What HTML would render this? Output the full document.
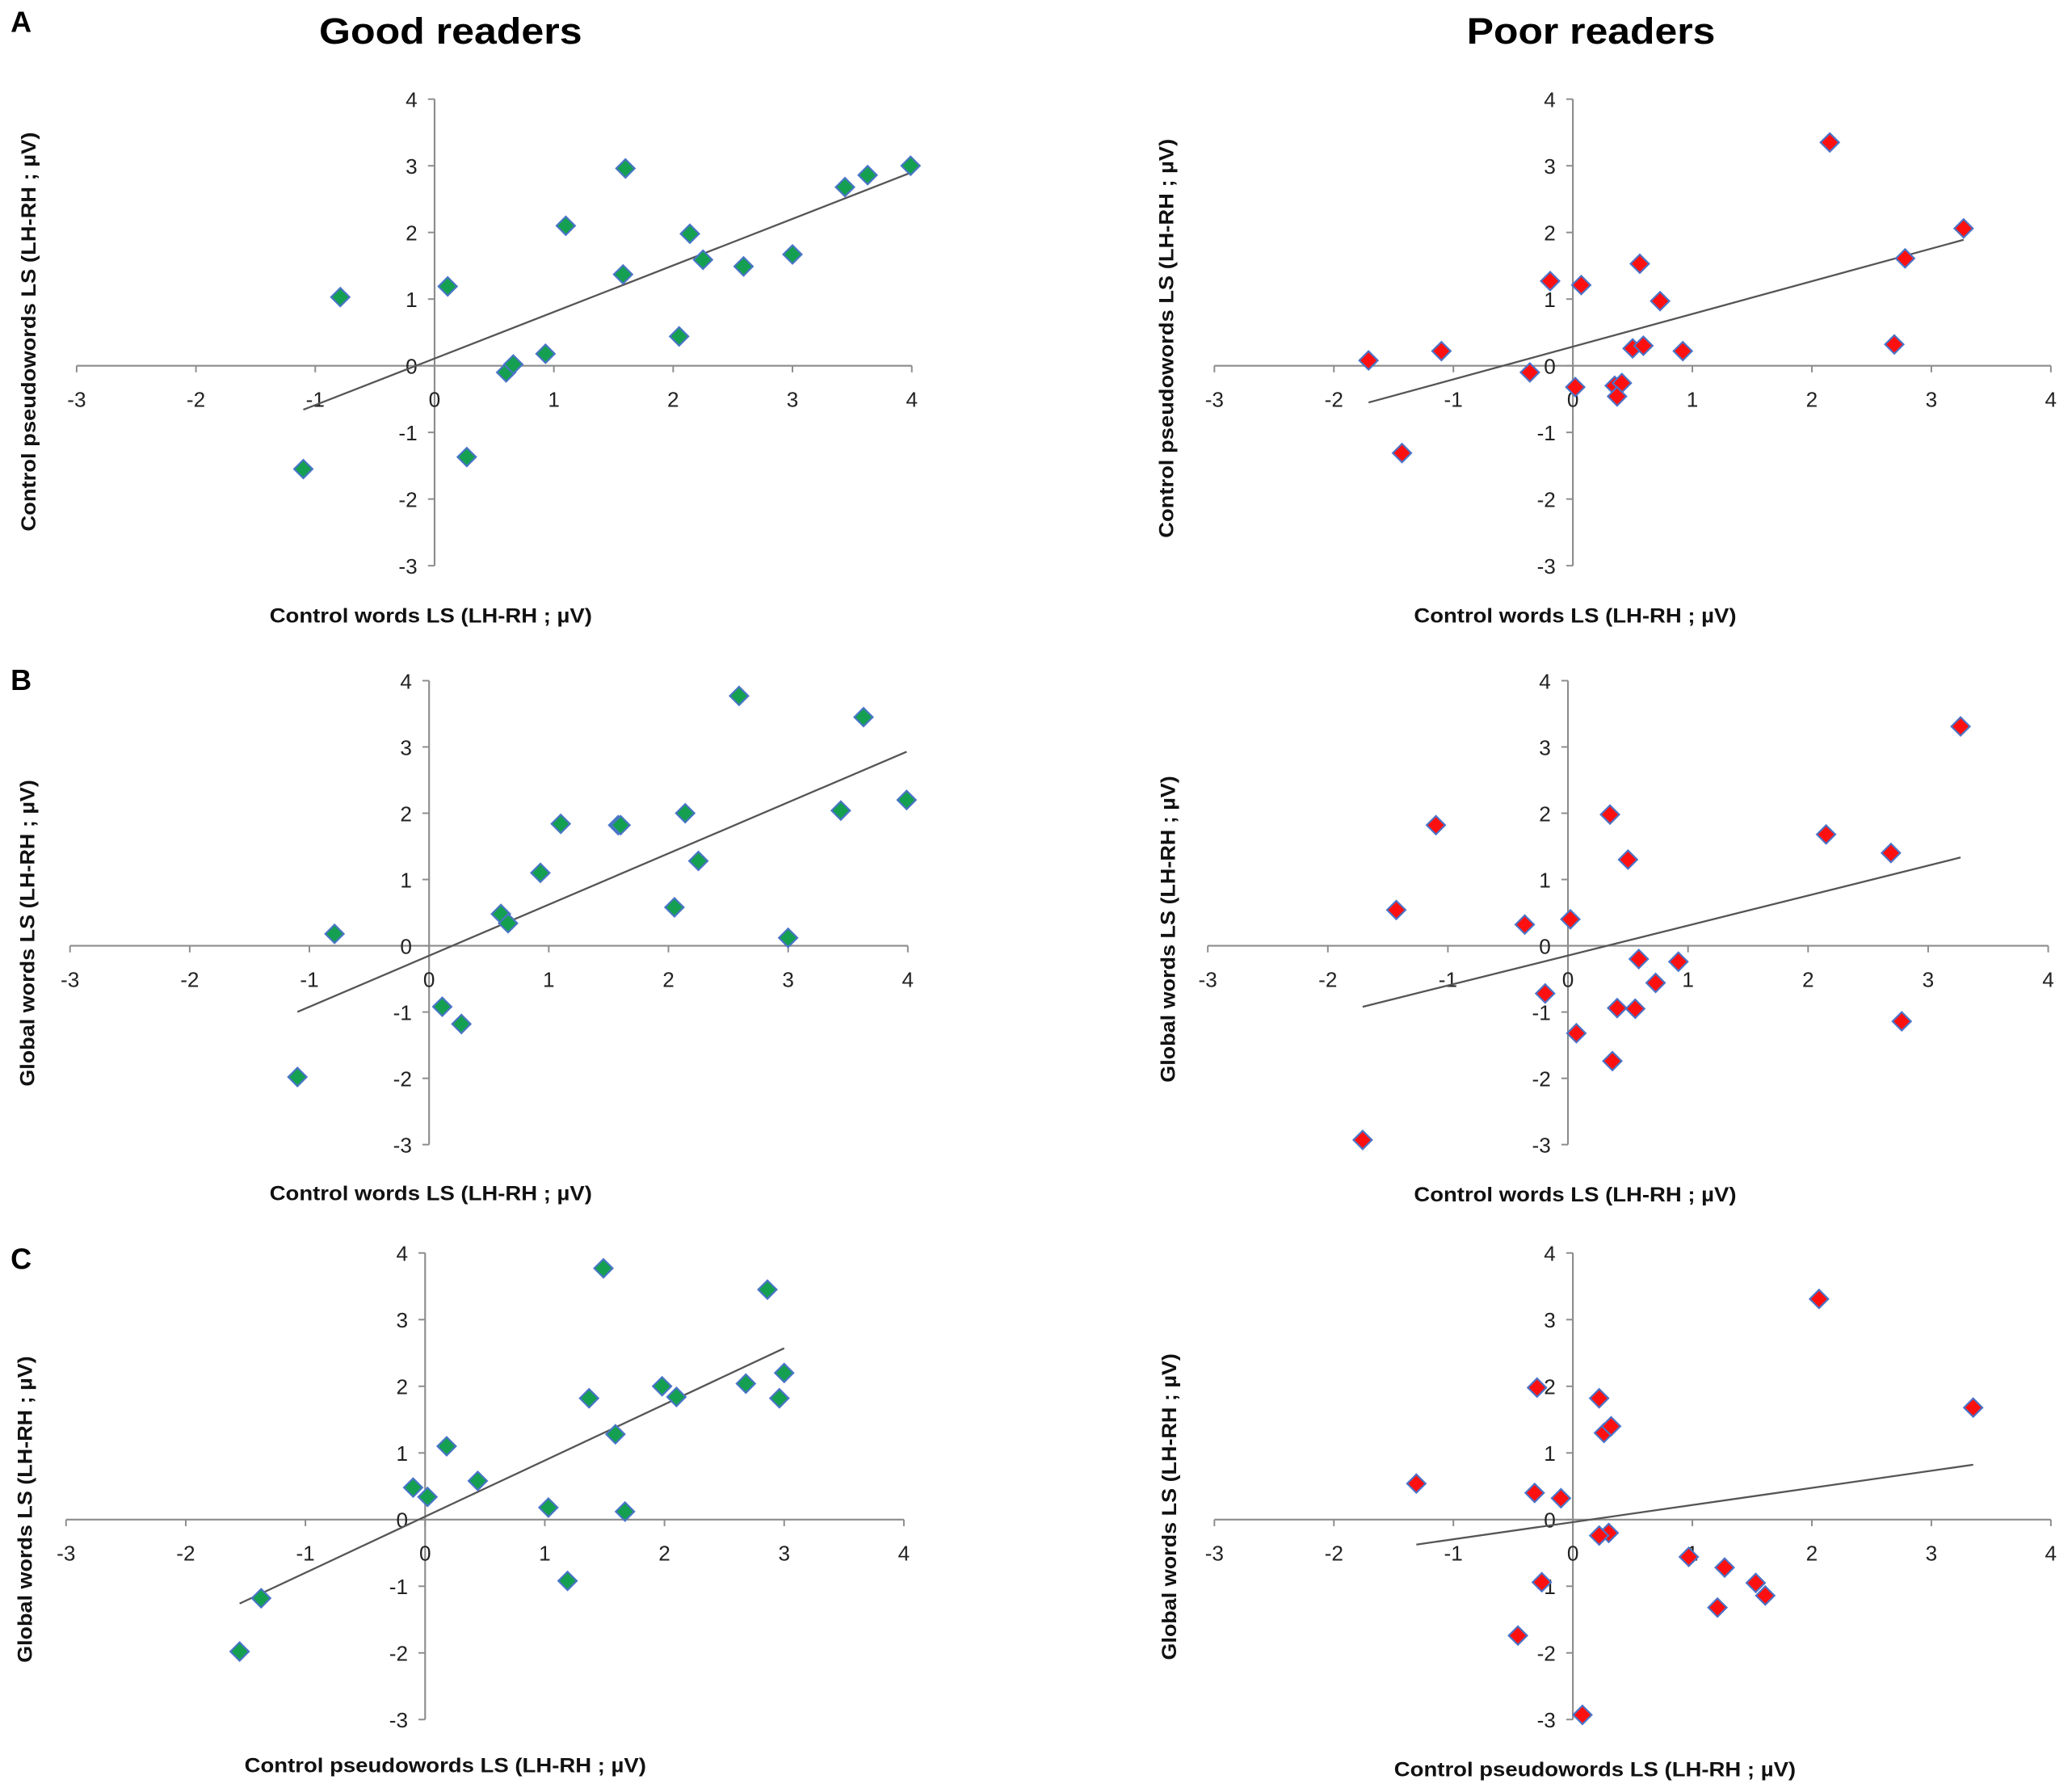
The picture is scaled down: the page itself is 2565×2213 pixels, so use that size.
<!DOCTYPE html>
<html><head><meta charset="utf-8"><style>
html,body{margin:0;padding:0;background:#fff;}
svg{display:block;}
text{font-family:"Liberation Sans",sans-serif;}
</style></head><body>
<svg id="fig" width="2565" height="2213" viewBox="0 0 1568 1352.8" preserveAspectRatio="none" xmlns="http://www.w3.org/2000/svg">
<text x="8" y="24" font-size="22" font-weight="bold">A</text>
<text x="8" y="522" font-size="22" font-weight="bold">B</text>
<text x="8" y="960" font-size="22" font-weight="bold">C</text>
<text x="341" y="33" font-size="28" font-weight="bold" text-anchor="middle" textLength="199" lengthAdjust="spacingAndGlyphs">Good readers</text>
<text x="1204" y="33" font-size="28" font-weight="bold" text-anchor="middle" textLength="188" lengthAdjust="spacingAndGlyphs">Poor readers</text>
</svg>
<script>
// Good readers (per subject)
const goodControlWords = [-0.79,0.11,-1.1,0.27,0.6,0.66,0.93,1.1,1.58,1.6,2.05,2.14,2.25,2.59,3.0,3.44,3.63,3.99];
const goodControlPseudo = [1.03,1.19,-1.55,-1.37,-0.1,0.02,0.18,2.1,1.37,2.96,0.44,1.98,1.59,1.49,1.67,2.68,2.86,3.0];
const goodGlobalWords = [0.18,-0.92,-1.98,-1.18,0.48,0.34,1.1,1.84,1.82,1.82,0.58,2.0,1.28,3.77,0.12,2.04,3.45,2.2];
// Poor readers (per subject)
const poorControlWords = [-1.71,-1.43,-1.1,-0.36,-0.19,0.02,0.07,0.35,0.41,0.37,0.5,0.56,0.59,0.73,0.92,2.15,2.69,2.78,3.27];
const poorControlPseudo = [0.08,-1.31,0.22,-0.1,1.27,-0.32,1.21,-0.3,-0.26,-0.46,0.26,1.53,0.3,0.97,0.22,3.35,0.32,1.61,2.06];
const poorGlobalWords = [-2.93,0.54,1.82,0.32,-0.72,0.4,-1.32,1.98,-0.94,-1.74,1.3,-0.95,-0.2,-0.56,-0.24,1.68,1.4,-1.14,3.31];
const tickValues = [-3,-2,-1,0,1,2,3,4];

const NS = "http://www.w3.org/2000/svg";
const svg = document.getElementById('fig');
function mk(tag, attrs, parent){const e=document.createElementNS(NS,tag);for(const k in attrs)e.setAttribute(k,attrs[k]);(parent||svg).appendChild(e);return e;}

const panels = [
 {id:'a-good', xs:goodControlWords, ys:goodControlPseudo, xm:58, xM:690, y4:75, ym3:428, fill:'#14a050', xt:'Control words LS (LH-RH ; µV)', yt:'Control pseudowords LS (LH-RH ; µV)', xtx:326, xty:471, ytx:27, yty:251, xw:244, yw:302},
 {id:'a-poor', xs:poorControlWords, ys:poorControlPseudo, xm:919, xM:1552, y4:75, ym3:428, fill:'#ff1010', xt:'Control words LS (LH-RH ; µV)', yt:'Control pseudowords LS (LH-RH ; µV)', xtx:1192, xty:471, ytx:888, yty:256, xw:244, yw:302},
 {id:'b-good', xs:goodControlWords, ys:goodGlobalWords, xm:53, xM:687, y4:515, ym3:866, fill:'#14a050', xt:'Control words LS (LH-RH ; µV)', yt:'Global words LS (LH-RH ; µV)', xtx:326, xty:908, ytx:26, yty:706, xw:244, yw:232},
 {id:'b-poor', xs:poorControlWords, ys:poorGlobalWords, xm:914, xM:1550, y4:515, ym3:866, fill:'#ff1010', xt:'Control words LS (LH-RH ; µV)', yt:'Global words LS (LH-RH ; µV)', xtx:1192, xty:909, ytx:889, yty:703, xw:244, yw:232},
 {id:'c-good', xs:goodControlPseudo, ys:goodGlobalWords, xm:50, xM:684, y4:948, ym3:1301, fill:'#14a050', xt:'Control pseudowords LS (LH-RH ; µV)', yt:'Global words LS (LH-RH ; µV)', xtx:337, xty:1341, ytx:24, yty:1142, xw:304, yw:232},
 {id:'c-poor', xs:poorControlPseudo, ys:poorGlobalWords, xm:919, xM:1552, y4:948, ym3:1301, fill:'#ff1010', xt:'Control pseudowords LS (LH-RH ; µV)', yt:'Global words LS (LH-RH ; µV)', xtx:1207, xty:1344, ytx:890, yty:1140, xw:304, yw:232}
];

panels.forEach(p=>{
 const g = mk('g',{});
 
 
 const X = v => p.xm + (v+3)*(p.xM-p.xm)/7;
 const Y = v => p.ym3 - (v+3)*(p.ym3-p.y4)/7;
 const ax = mk('line',{x1:X(-3),x2:X(4),y1:Y(0),y2:Y(0),stroke:'#8c8c8c','stroke-width':1.3},g);
 
 
 const ay = mk('line',{x1:X(0),x2:X(0),y1:Y(-3),y2:Y(4),stroke:'#8c8c8c','stroke-width':1.3},g);
 
 
 tickValues.forEach(t=>{
  mk('line',{x1:X(t),x2:X(t),y1:Y(0),y2:Y(0)+5,stroke:'#8c8c8c','stroke-width':1.2},g);
  mk('line',{x1:X(0)-5,x2:X(0),y1:Y(t),y2:Y(t),stroke:'#8c8c8c','stroke-width':1.2},g);
  const xl = mk('text',{x:X(t),y:Y(0)+31,'font-size':16,'text-anchor':'middle',fill:'#222'},g);
  xl.textContent = t;
  
  
  const yl = mk('text',{x:X(0)-13,y:Y(t)+6,'font-size':16,'text-anchor':'end',fill:'#222'},g);
  yl.textContent = t;
  
  
 });
 const n=p.xs.length; let sx=0,sy=0,sxx=0,sxy=0;
 for(let i=0;i<n;i++){sx+=p.xs[i];sy+=p.ys[i];sxx+=p.xs[i]*p.xs[i];sxy+=p.xs[i]*p.ys[i];}
 const b=(n*sxy-sx*sy)/(n*sxx-sx*sx), a=(sy-b*sx)/n;
 const mn=Math.min(...p.xs), mx=Math.max(...p.xs);
 const tl = mk('line',{x1:X(mn),y1:Y(a+b*mn),x2:X(mx),y2:Y(a+b*mx),stroke:'#555','stroke-width':1.4},g);
 
 
 for(let i=0;i<n;i++){
  const cx=X(p.xs[i]), cy=Y(p.ys[i]), r=7;
  const d = mk('polygon',{points:`${cx},${cy-r} ${cx+r},${cy} ${cx},${cy+r} ${cx-r},${cy}`,fill:p.fill,stroke:'#4a74c8','stroke-width':1.3},g);
  
  
 }
 const xt = mk('text',{x:p.xtx,y:p.xty,'font-size':15.5,'font-weight':'bold','text-anchor':'middle',textLength:p.xw,lengthAdjust:'spacingAndGlyphs',fill:'#111'},g);
 xt.textContent = p.xt;
 
 
 const yt = mk('text',{x:0,y:0,'font-size':15.5,'font-weight':'bold','text-anchor':'middle',textLength:p.yw,lengthAdjust:'spacingAndGlyphs',fill:'#111',transform:`translate(${p.ytx},${p.yty}) rotate(-90)`},g);
 yt.textContent = p.yt;
 
 
});
</script>
</body></html>
